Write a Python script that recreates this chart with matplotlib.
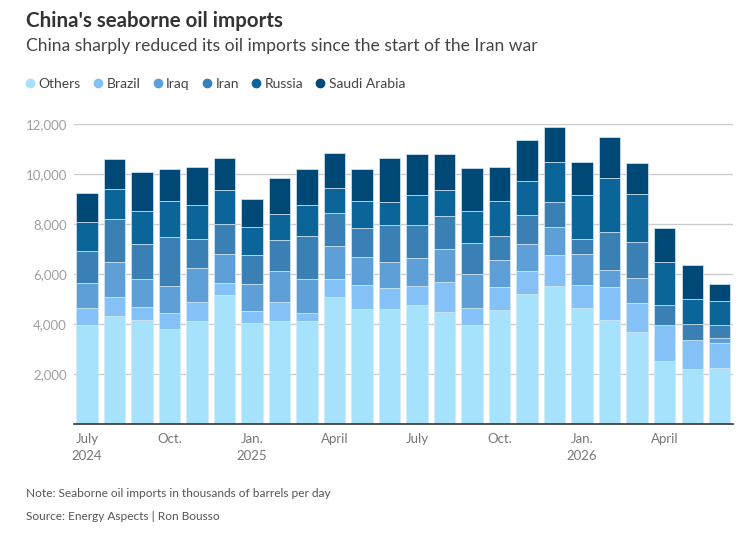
#!/usr/bin/env python3
"""China's seaborne oil imports by origin, stacked monthly bars."""

import numpy as np
import matplotlib
matplotlib.use("Agg")
import matplotlib.pyplot as plt
from matplotlib.lines import Line2D

# Monthly data, July 2024 - June 2026, thousand barrels per day
months = ['2024-07', '2024-08', '2024-09', '2024-10', '2024-11', '2024-12',
          '2025-01', '2025-02', '2025-03', '2025-04', '2025-05', '2025-06',
          '2025-07', '2025-08', '2025-09', '2025-10', '2025-11', '2025-12',
          '2026-01', '2026-02', '2026-03', '2026-04', '2026-05', '2026-06']

others = [3970, 4330, 4190, 3810, 4130, 5170, 4040, 4130, 4130, 5090, 4610, 4610,
          4770, 4490, 3990, 4570, 5210, 5520, 4650, 4170, 3710, 2530, 2210, 2270]
brazil = [680, 760, 500, 640, 750, 480, 490, 760, 310, 730, 950, 840,
          760, 1200, 670, 920, 920, 1250, 920, 1320, 1160, 1440, 1180, 990]
iraq = [990, 1390, 1120, 1090, 1370, 1150, 1080, 1240, 1370, 1320, 1130, 1030,
        1120, 1330, 1360, 1070, 1080, 1110, 1230, 690, 970, 0, 0, 190]
iran = [1280, 1730, 1390, 1970, 1160, 1210, 1150, 1240, 1710, 1330, 1160, 1480,
        1310, 1320, 1250, 960, 1170, 1030, 600, 1530, 1440, 790, 630, 520]
russia = [1160, 1210, 1330, 1440, 1350, 1350, 1120, 1030, 1240, 1000, 1070, 920,
          1200, 1050, 1250, 1410, 1350, 1590, 1760, 2160, 1920, 1720, 990, 960]
saudi = [1190, 1210, 1560, 1270, 1520, 1280, 1120, 1440, 1440, 1390, 1310, 1760,
         1650, 1440, 1730, 1350, 1650, 1410, 1350, 1630, 1240, 1360, 1360, 690]

series_names = ['Others', 'Brazil', 'Iraq', 'Iran', 'Russia', 'Saudi Arabia']
colors = ['#a6e2fc', '#84c1f7', '#5e9fd7', '#3b80b5', '#0b6599', '#004876']

tick_positions = [0, 3, 6, 9, 12, 15, 18, 21]
tick_labels = ['July\n2024', 'Oct.', 'Jan.\n2025', 'April', 'July', 'Oct.',
               'Jan.\n2026', 'April']

plt.rcParams['font.family'] = ['Lato', 'DejaVu Sans']

fig = plt.figure(figsize=(7.52, 5.45), dpi=100)
ax = fig.add_axes([0.0984, 0.2215, 0.8763, 0.5504])

x = np.arange(len(months))
bottom = np.zeros(len(months))
for name, vals, col in zip(series_names, [others, brazil, iraq, iran, russia, saudi], colors):
    vals = np.array(vals, dtype=float)
    ax.bar(x, vals, bottom=bottom, width=0.78, color=col,
           edgecolor='#d6e9f5', linewidth=0.5, zorder=3, label=name)
    bottom += vals

ax.set_xlim(-0.47, 23.48)
ax.set_ylim(0, 12000)
ax.set_yticks(range(2000, 12001, 2000))
ax.set_yticklabels([f'{v:,}' for v in range(2000, 12001, 2000)])
ax.yaxis.grid(True, color='#cccccc', linewidth=1, zorder=0)
ax.set_axisbelow(True)

for s in ['top', 'right', 'left']:
    ax.spines[s].set_visible(False)
ax.spines['bottom'].set_color('#333333')
ax.spines['bottom'].set_linewidth(1.2)
ax.spines['bottom'].set_zorder(4)

ax.tick_params(axis='y', length=0, pad=5, labelsize=9.5, labelcolor='#a0a0a0')
ax.tick_params(axis='x', length=0, pad=6, labelsize=9.5, labelcolor='#777777')
ax.set_xticks(tick_positions)
ax.set_xticklabels(tick_labels, linespacing=1.5)

# Title and subtitle
fig.text(0.0346, 0.962, "China's seaborne oil imports", fontsize=14.8,
         fontweight='bold', color='#333333', va='center')
fig.text(0.0346, 0.915, 'China sharply reduced its oil imports since the start of the Iran war',
         fontsize=12.6, color='#444444', va='center')

# Legend with round markers
handles = [Line2D([0], [0], marker='o', linestyle='', markersize=6,
                  markerfacecolor=c, markeredgecolor=c) for c in colors]
fig.legend(handles, series_names, loc='center left', bbox_to_anchor=(0.017, 0.846),
           ncol=6, frameon=False, fontsize=10, handletextpad=0.05,
           columnspacing=0.7, handlelength=1.1, labelcolor='#444444',
           borderpad=0.2)

# Footnotes
fig.text(0.0346, 0.094, 'Note: Seaborne oil imports in thousands of barrels per day',
         fontsize=8.6, color='#555555', va='center')
fig.text(0.0346, 0.053, 'Source: Energy Aspects | Ron Bousso',
         fontsize=8.6, color='#555555', va='center')

fig.savefig('out.png', dpi=100)
